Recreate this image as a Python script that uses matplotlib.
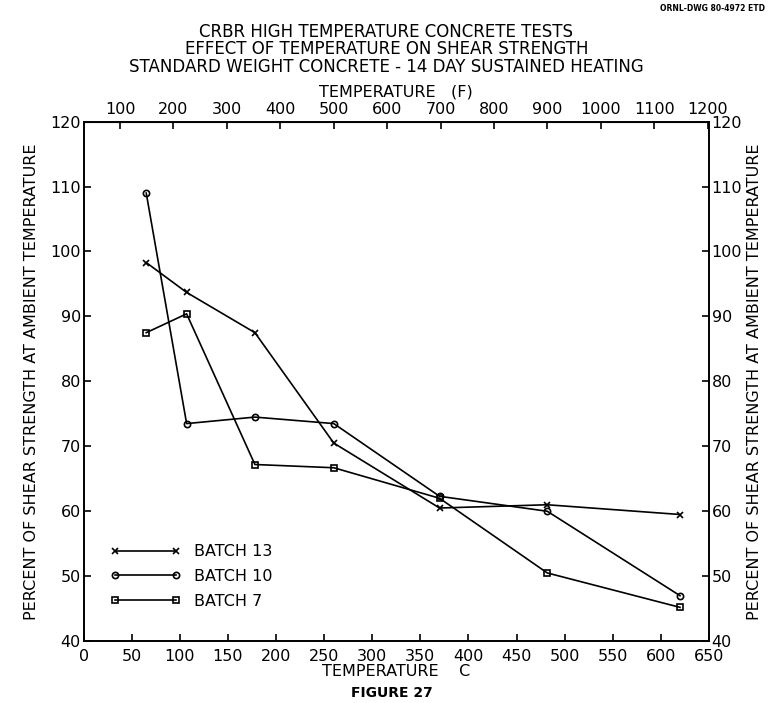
import matplotlib
matplotlib.use('Agg')
import matplotlib.pyplot as plt

plt.rcParams['font.family'] = ['DejaVu Sans']

# temperatures in C, percent of shear strength at ambient temperature
batch13_t = [65, 107, 178, 260, 370, 482, 620]
batch13_v = [98.3, 93.7, 87.5, 70.5, 60.5, 61.0, 59.5]

batch10_t = [65, 107, 178, 260, 370, 482, 620]
batch10_v = [109.0, 73.5, 74.5, 73.5, 62.3, 60.0, 47.0]

batch7_t = [65, 107, 178, 260, 370, 482, 620]
batch7_v = [87.5, 90.4, 67.2, 66.7, 62.0, 50.5, 45.2]

x_ticks = list(range(0, 651, 50))
y_ticks = list(range(40, 121, 10))
f_ticks = list(range(100, 1201, 100))

fig = plt.figure(figsize=(7.68, 7.03), dpi=100)
ax = fig.add_axes([0.109, 0.088, 0.814, 0.739])

ax.plot(batch13_t, batch13_v, color='black', lw=1.2, marker='x', ms=4.5, mew=1.2,
        label='BATCH 13')
ax.plot(batch10_t, batch10_v, color='black', lw=1.2, marker='o', ms=4.5, mew=1.2,
        mfc='none', label='BATCH 10')
ax.plot(batch7_t, batch7_v, color='black', lw=1.2, marker='s', ms=4, mew=1.2,
        mfc='none', label='BATCH 7')

ax.set_xlim(0, 650)
ax.set_ylim(40, 120)
ax.set_xticks(x_ticks)
ax.set_yticks(y_ticks)
ax.tick_params(direction='in', length=5, width=1.2, labelsize=11.5,
               right=True, labelright=True)
ax.tick_params(axis='y', pad=2)
ax.tick_params(axis='x', pad=6)
for s in ax.spines.values():
    s.set_linewidth(1.4)

ax.set_xlabel('TEMPERATURE    C', fontsize=11.5, labelpad=0)
ax.set_ylabel('PERCENT OF SHEAR STRENGTH AT AMBIENT TEMPERATURE', fontsize=11.5,
              labelpad=8)
fig.text(0.983, 0.457, 'PERCENT OF SHEAR STRENGTH AT AMBIENT TEMPERATURE',
         rotation=90, fontsize=11.5, ha='center', va='center')

# Fahrenheit scale on top
top = ax.secondary_xaxis('top', functions=(lambda c: c * 9 / 5 + 32,
                                            lambda f: (f - 32) * 5 / 9))
top.set_xticks(f_ticks)
top.tick_params(direction='in', length=5, width=1.2, labelsize=11.5, pad=3)
top.set_xlabel('TEMPERATURE   (F)', fontsize=11.5, labelpad=4)

ax.legend(loc='lower left', bbox_to_anchor=(0.02, 0.035), frameon=False,
          numpoints=2, handlelength=4.4, fontsize=11.5, labelspacing=0.6,
          handletextpad=0.8)

fig.text(0.503, 0.955, 'CRBR HIGH TEMPERATURE CONCRETE TESTS', ha='center',
         va='center', fontsize=12)
fig.text(0.503, 0.930, 'EFFECT OF TEMPERATURE ON SHEAR STRENGTH', ha='center',
         va='center', fontsize=12)
fig.text(0.503, 0.904, 'STANDARD WEIGHT CONCRETE - 14 DAY SUSTAINED HEATING',
         ha='center', va='center', fontsize=12)
fig.text(0.996, 0.988, 'ORNL-DWG 80-4972 ETD', ha='right', va='center',
         fontsize=5.5, fontweight='bold')
fig.text(0.51, 0.014, 'FIGURE 27', ha='center', va='center', fontsize=10,
         fontweight='bold')

fig.savefig('out.png', dpi=100)
